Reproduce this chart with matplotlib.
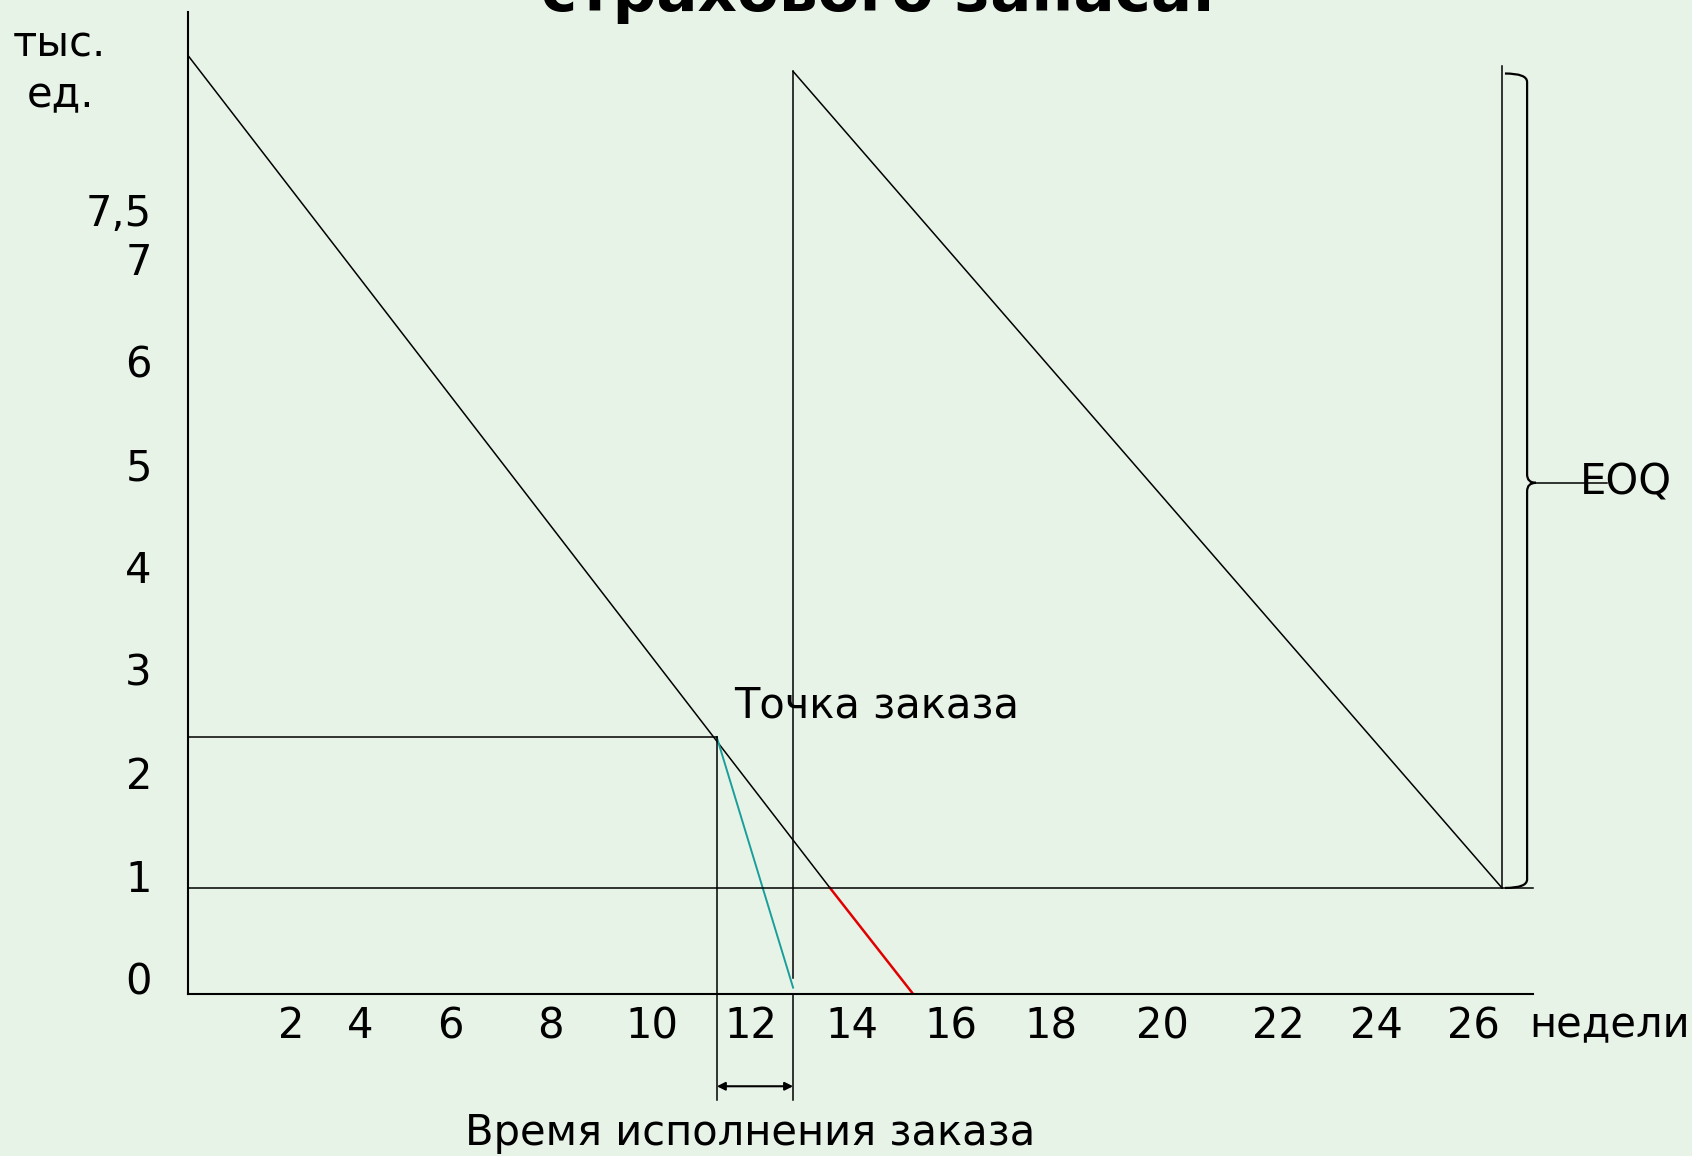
import matplotlib
matplotlib.use("Agg")
import matplotlib.pyplot as plt
from matplotlib.path import Path
import matplotlib.patches as mpatches
import numpy as np

# ── Colours ────────────────────────────────────────────────────────────────────
BG    = "#e8f3e8"
BLACK = "#000000"
TEAL  = "#1a9e9a"
RED   = "#e00000"

FS = 30

plt.rcParams.update({
    "font.family": ["DejaVu Sans"],
    "font.size":   FS,
})

# ── Data (weeks, thousand units) ───────────────────────────────────────────────
cycle1_x = [0.0, 13.05]          # first cycle, down to safety stock
cycle1_y = [8.85, 1.0]
below_x  = [13.05, 14.74]        # use of safety stock (red)
below_y  = [1.0, 0.0]
lead_x   = [10.75, 12.30]        # consumption during lead time (teal)
lead_y   = [2.42, 0.06]
cycle2_x = [12.30, 26.71]        # second cycle
cycle2_y = [8.70, 1.0]

reorder_week  = 10.75
reorder_level = 2.42
delivery_week = 12.30
safety_stock  = 1.0
end_week      = 26.71
end_top       = 8.75
peak2_top     = 8.70
x_max, y_max  = 27.34, 9.26

y_labels = ["0", "1", "2", "3", "4", "5", "6", "7", "7,5"]
y_vals   = [0, 1, 2, 3, 4, 5, 6, 7, 7.47]
x_labels = ["2", "4", "6", "8", "10", "12", "14", "16", "18", "20", "22", "24", "26"]
x_label_pos = [2.09, 3.50, 5.33, 7.36, 9.43, 11.44, 13.50, 15.51, 17.54,
               19.80, 22.17, 24.15, 26.12]

fig = plt.figure(figsize=(16.92, 11.56), dpi=100, facecolor=BG)
ax = fig.add_axes([188 / 1692, 1 - 994 / 1156, (1533 - 188) / 1692, (994 - 12) / 1156])
ax.set_facecolor("none")
ax.set_xlim(0, x_max)
ax.set_ylim(0, y_max)
for s in ("top", "right"):
    ax.spines[s].set_visible(False)
for s in ("left", "bottom"):
    ax.spines[s].set_linewidth(1.5)

lw = 1.1
ax.plot(cycle1_x, cycle1_y, color=BLACK, lw=lw)
ax.plot(below_x, below_y, color=RED, lw=1.8)
ax.plot(lead_x, lead_y, color=TEAL, lw=1.4)
ax.plot(cycle2_x, cycle2_y, color=BLACK, lw=lw)

# reorder level and safety stock lines
ax.plot([0, reorder_week], [reorder_level, reorder_level], color=BLACK, lw=lw)
ax.plot([0, x_max], [safety_stock, safety_stock], color=BLACK, lw=lw, clip_on=False)

# verticals (lead time)
ax.plot([reorder_week, reorder_week], [reorder_level, -1.0], color=BLACK, lw=lw, clip_on=False)
ax.plot([delivery_week, delivery_week], [peak2_top, 0.15], color=BLACK, lw=lw)
ax.plot([delivery_week, delivery_week], [0, -1.0], color=BLACK, lw=lw, clip_on=False)
ax.plot([end_week, end_week], [safety_stock, end_top], color=BLACK, lw=lw)

ax.annotate("", xy=(reorder_week, -0.87), xytext=(delivery_week, -0.87),
            arrowprops=dict(arrowstyle="<|-|>", color=BLACK, lw=1.5,
                            mutation_scale=12, shrinkA=0, shrinkB=0),
            annotation_clip=False)

# EOQ brace
x0, x1, xt = 26.77, 27.22, 27.40
yt, yb, ym = 8.68, 1.0, 4.82
r = 0.08
verts = [(x0, yt), (x1, yt), (x1, yt - r),
         (x1, ym + r),
         (x1, ym), (xt, ym),
         (x1, ym), (x1, ym - r),
         (x1, yb + r),
         (x1, yb), (x0, yb)]
codes = [Path.MOVETO, Path.CURVE3, Path.CURVE3,
         Path.LINETO,
         Path.CURVE3, Path.CURVE3,
         Path.CURVE3, Path.CURVE3,
         Path.LINETO,
         Path.CURVE3, Path.CURVE3]
brace = mpatches.PathPatch(Path(verts, codes), fill=False, lw=1.6,
                           edgecolor=BLACK, clip_on=False)
ax.add_patch(brace)
ax.plot([xt, 28.85], [ym, ym], color=BLACK, lw=1.1, clip_on=False)
ax.text(28.29, ym, "EOQ", ha="left", va="center", fontsize=FS)

ax.text(11.10, 2.72, "Точка заказа", ha="left", va="center", fontsize=FS)

# ticks
ax.set_yticks(np.array(y_vals) * 0.97 + 0.15)
ax.set_yticklabels(y_labels)
ax.set_xticks(x_label_pos)
ax.set_xticklabels(x_labels)
ax.tick_params(axis="y", length=0, pad=26, labelsize=FS)
ax.tick_params(axis="x", length=0, pad=8, labelsize=FS)

fig.text(1610 / 1692, 1 - 1025 / 1156, "недели", ha="center", va="center", fontsize=FS)
fig.text(59 / 1692, 1 - 44 / 1156, "тыс.", ha="center", va="center", fontsize=FS)
fig.text(60 / 1692, 1 - 95 / 1156, "ед.", ha="center", va="center", fontsize=FS)
fig.text(750 / 1692, 1 - 1133 / 1156, "Время исполнения заказа", ha="center",
         va="center", fontsize=FS)
fig.text(878 / 1692, 1 - 11 / 1156, "страхового запаса.", ha="center",
         va="baseline", fontsize=44, fontweight="bold")

fig.savefig("out.png", dpi=100, facecolor=BG)
